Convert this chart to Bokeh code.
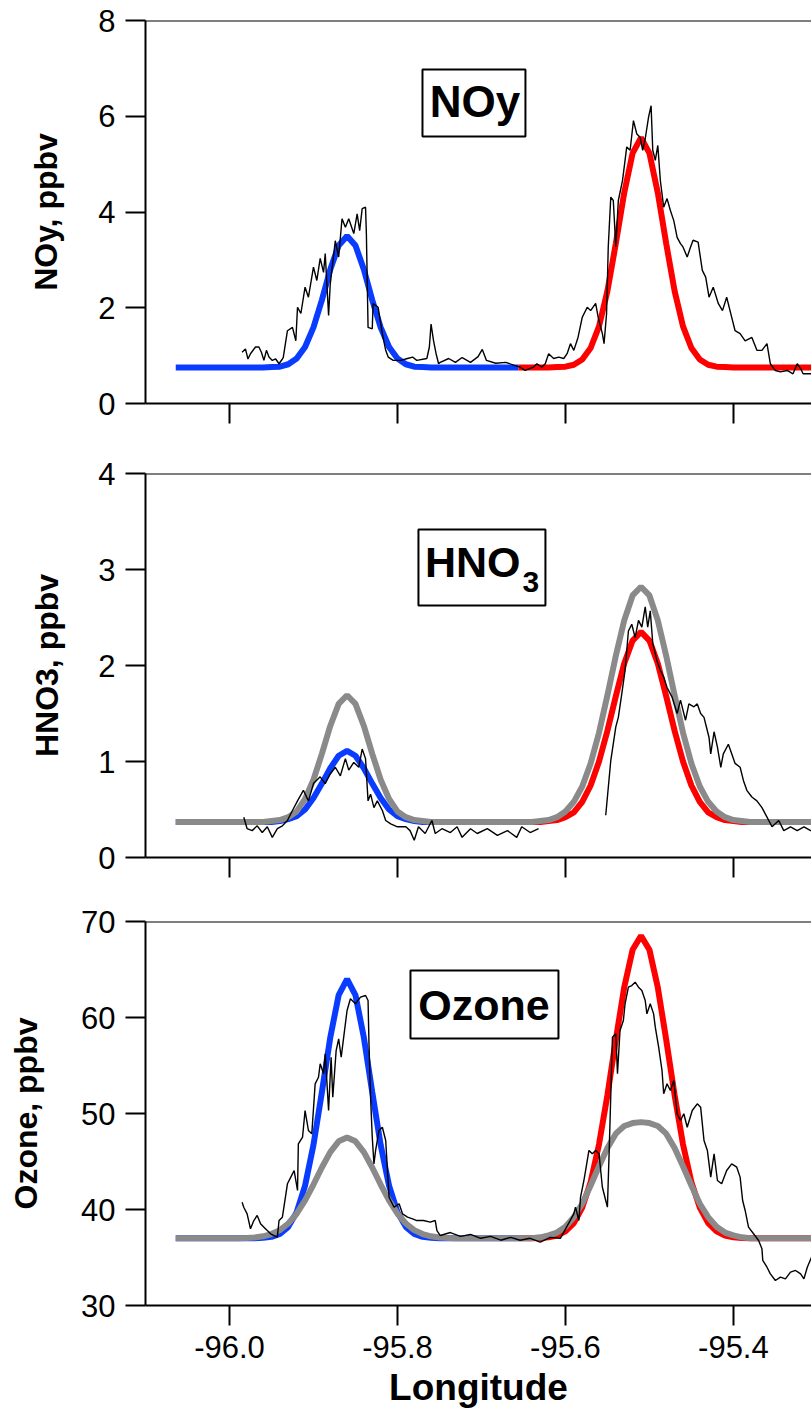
from bokeh.plotting import figure
from bokeh.models import Range1d, FixedTicker, Span, BoxAnnotation, Label, CustomLabelingPolicy
from bokeh.layouts import column
from bokeh.embed import file_html
from bokeh.resources import INLINE

FONT = "Liberation Sans"
NAN = float("nan")

# ---------------- data ----------------
x_ticks = [-96.0, -95.8, -95.6, -95.4]
x_tick_labels = ["-96.0", "-95.8", "-95.6", "-95.4"]

# longitude grids of the fitted curves (left plume, right plume)
fit_lon_left = [-96.064, -95.99, -95.98, -95.97, -95.96, -95.95, -95.94, -95.93, -95.92, -95.91,
                -95.90, -95.89, -95.88, -95.87, -95.86, -95.85, -95.84, -95.83, -95.82, -95.81,
                -95.80, -95.79, -95.78, -95.77, -95.76, -95.75, -95.74, -95.73, -95.656]
fit_lon_right = [-95.656, -95.64, -95.63, -95.62, -95.61, -95.60, -95.59, -95.58, -95.57, -95.56,
                 -95.55, -95.54, -95.53, -95.52, -95.51, -95.50, -95.49, -95.48, -95.47, -95.46,
                 -95.45, -95.44, -95.43, -95.42, -95.41, -95.40, -95.39, -95.38, -95.20]

# NOy panel
noy_blue = [0.75, 0.75, 0.75, 0.75, 0.75, 0.76, 0.77, 0.82, 0.94, 1.18, 1.59, 2.16, 2.80, 3.30,
            3.50, 3.30, 2.80, 2.16, 1.59, 1.18, 0.94, 0.82, 0.77, 0.76, 0.75, 0.75, 0.75, 0.75, 0.75]
noy_red = [0.75, 0.75, 0.75, 0.75, 0.76, 0.77, 0.81, 0.92, 1.16, 1.61, 2.35, 3.34, 4.40, 5.23,
           5.55, 5.23, 4.40, 3.34, 2.35, 1.61, 1.16, 0.92, 0.81, 0.77, 0.76, 0.75, 0.75, 0.75, 0.75]
noy_obs_lon = [-95.985, -95.981, -95.978, -95.975, -95.969, -95.965, -95.962, -95.959, -95.956, -95.953,
               -95.949, -95.945, -95.941, -95.937, -95.936, -95.931, -95.925, -95.921, -95.919, -95.915,
               -95.910, -95.906, -95.900, -95.896, -95.892, -95.888, -95.886, -95.882, -95.880, -95.874,
               -95.870, -95.866, -95.862, -95.858, -95.852, -95.848, -95.845, -95.842, -95.838, -95.837,
               -95.835, -95.830, -95.829, -95.823, -95.818, -95.814, -95.811, -95.805, -95.796, -95.788,
               -95.782, -95.777, -95.765, -95.762, -95.760, -95.757, -95.754, -95.751, -95.749, -95.739,
               -95.731, -95.723, -95.713, -95.704, -95.699, -95.694, -95.683, -95.671, -95.660, -95.654,
               -95.648, -95.638, -95.634, -95.628, -95.624, -95.620, -95.614, -95.608, -95.602, -95.598,
               -95.594, -95.590, -95.585, -95.580, -95.574, -95.570, -95.564, -95.561, -95.556, -95.554,
               -95.551, -95.549, -95.546, -95.543, -95.540, -95.537, -95.532, -95.529, -95.527, -95.523,
               -95.519, -95.515, -95.511, -95.508, -95.505, -95.501, -95.498, -95.496, -95.493, -95.490,
               -95.487, -95.483, -95.479, -95.475, -95.471, -95.467, -95.463, -95.460, -95.455, -95.451,
               -95.448, -95.442, -95.437, -95.433, -95.429, -95.424, -95.418, -95.413, -95.408, -95.402,
               -95.398, -95.392, -95.386, -95.378, -95.372, -95.366, -95.360, -95.356, -95.350, -95.344,
               -95.336, -95.329, -95.324, -95.320, -95.317, -95.308, -95.300]
noy_obs = [1.07, 1.14, 0.93, 1.04, 1.18, 1.18, 1.07, 0.90, 1.11, 0.97,
           0.90, 0.93, 0.83, 0.93, 0.96, 1.52, 1.59, 1.31, 2.01, 1.88,
           2.43, 2.22, 2.85, 2.57, 3.03, 2.74, 3.13, 1.84, 2.50, 3.40,
           3.06, 3.86, 3.68, 3.86, 3.55, 3.96, 3.61, 4.07, 4.10, 3.55,
           1.59, 1.56, 2.09, 2.01, 1.46, 1.11, 0.97, 0.90, 0.90, 0.94,
           0.97, 0.90, 0.94, 1.18, 1.66, 1.31, 1.04, 0.83, 0.86, 0.94,
           0.86, 0.96, 0.86, 0.98, 1.13, 0.90, 0.84, 0.86, 0.79, 0.76,
           0.69, 0.76, 0.83, 0.76, 0.83, 1.04, 0.94, 0.97, 0.94, 1.04,
           1.25, 1.11, 1.38, 1.80, 2.01, 1.94, 2.09, 1.80, 1.46, 1.25,
           1.88, 3.27, 4.31, 4.24, 3.27, 4.24, 4.66, 5.08, 5.36, 5.29,
           5.91, 5.63, 5.56, 5.29, 5.53, 5.98, 6.22, 5.29, 5.08, 5.39,
           4.66, 4.10, 4.28, 4.03, 3.82, 3.47, 3.34, 3.27, 3.06, 3.27,
           3.41, 3.37, 2.78, 2.64, 2.22, 2.43, 2.09, 1.94, 2.22, 1.80,
           1.52, 1.46, 1.31, 1.38, 1.11, 1.11, 1.25, 0.83, 0.69, 0.66,
           0.69, 0.62, 0.83, 0.73, 0.62, 0.62, 0.65]

# HNO3 panel
hno3_blue = [0.37, 0.37, 0.37, 0.37, 0.37, 0.37, 0.38, 0.40, 0.43, 0.50, 0.62, 0.77, 0.93, 1.06,
             1.11, 1.06, 0.93, 0.77, 0.62, 0.50, 0.43, 0.40, 0.38, 0.37, 0.37, 0.37, 0.37, 0.37, 0.37]
hno3_red = [0.37, 0.37, 0.37, 0.38, 0.39, 0.42, 0.47, 0.58, 0.75, 1.00, 1.32, 1.68, 2.02, 2.26,
            2.35, 2.26, 2.02, 1.68, 1.32, 1.00, 0.75, 0.58, 0.47, 0.42, 0.39, 0.38, 0.37, 0.37, 0.37]
hno3_gray_left = [0.37, 0.37, 0.37, 0.37, 0.37, 0.38, 0.39, 0.42, 0.48, 0.61, 0.81, 1.08, 1.37, 1.60,
                  1.69, 1.60, 1.37, 1.08, 0.81, 0.61, 0.48, 0.42, 0.39, 0.38, 0.37, 0.37, 0.37, 0.37, 0.37]
hno3_gray_right = [0.37, 0.37, 0.38, 0.39, 0.42, 0.48, 0.58, 0.74, 0.98, 1.30, 1.69, 2.10, 2.47, 2.73,
                   2.82, 2.73, 2.47, 2.10, 1.69, 1.30, 0.98, 0.74, 0.58, 0.48, 0.42, 0.39, 0.38, 0.37, 0.37]
hno3_obs_lon = [-95.983, -95.979, -95.973, -95.967, -95.961, -95.955, -95.949, -95.943, -95.937, -95.931,
                -95.925, -95.919, -95.912, -95.906, -95.900, -95.892, -95.886, -95.880, -95.874, -95.868,
                -95.862, -95.858, -95.852, -95.846, -95.842, -95.838, -95.835, -95.832, -95.828, -95.824,
                -95.818, -95.814, -95.808, -95.800, -95.790, -95.785, -95.780, -95.775, -95.767, -95.759,
                -95.755, -95.747, -95.737, -95.729, -95.723, -95.713, -95.705, -95.693, -95.681, -95.669,
                -95.658, -95.652, -95.642, -95.632, -95.60,
                -95.552, -95.546, -95.540, -95.537, -95.533, -95.529, -95.525, -95.521, -95.517, -95.513,
                -95.509, -95.505, -95.502, -95.499, -95.496, -95.491, -95.487, -95.483, -95.479, -95.473,
                -95.467, -95.463, -95.457, -95.453, -95.447, -95.443, -95.439, -95.435, -95.429, -95.427,
                -95.423, -95.419, -95.415, -95.412, -95.406, -95.402, -95.398, -95.392, -95.388, -95.384,
                -95.378, -95.372, -95.366, -95.360, -95.354, -95.346, -95.340, -95.332, -95.324, -95.316,
                -95.308, -95.300]
hno3_obs = [0.42, 0.30, 0.28, 0.33, 0.26, 0.32, 0.21, 0.30, 0.33, 0.385,
            0.49, 0.59, 0.70, 0.59, 0.77, 0.84, 0.77, 0.87, 0.94, 0.85,
            1.03, 0.91, 0.99, 0.94, 1.13, 1.03, 0.59, 0.66, 0.52, 0.59,
            0.49, 0.385, 0.35, 0.32, 0.32, 0.28, 0.18, 0.32, 0.25, 0.385,
            0.25, 0.30, 0.26, 0.32, 0.21, 0.30, 0.25, 0.30, 0.23, 0.28,
            0.21, 0.32, 0.26, 0.30, NAN,
            0.44, 1.01, 1.36, 1.46, 1.70, 1.95, 2.36, 2.43, 2.29, 2.47,
            2.40, 2.61, 2.40, 2.57, 2.23, 2.05, 1.95, 1.88, 1.77, 1.67,
            1.50, 1.64, 1.43, 1.60, 1.57, 1.60, 1.50, 1.46, 1.25, 1.08,
            1.31, 1.15, 0.94, 1.08, 1.18, 1.08, 0.98, 0.94, 0.80, 0.70,
            0.63, 0.59, 0.52, 0.42, 0.32, 0.385, 0.28, 0.32, 0.28, 0.32,
            0.28, 0.30]

# Ozone panel
o3_blue = [37.0, 37.0, 37.0, 37.01, 37.05, 37.15, 37.46, 38.19, 39.72, 42.48, 46.73, 52.21, 57.92, 62.33,
           64.0, 62.33, 57.92, 52.21, 46.73, 42.48, 39.72, 38.19, 37.46, 37.15, 37.05, 37.01, 37.0, 37.0, 37.0]
o3_red = [37.0, 37.01, 37.04, 37.11, 37.29, 37.72, 38.58, 40.19, 42.85, 46.79, 51.91, 57.68, 63.13, 67.06,
          68.5, 67.06, 63.13, 57.68, 51.91, 46.79, 42.85, 40.19, 38.58, 37.72, 37.29, 37.11, 37.04, 37.01, 37.0]
o3_gray_left = [37.0, 37.01, 37.04, 37.09, 37.21, 37.44, 37.85, 38.54, 39.56, 40.94, 42.60, 44.38, 45.98, 47.10,
                47.5, 47.10, 45.98, 44.38, 42.60, 40.94, 39.56, 38.54, 37.85, 37.44, 37.21, 37.09, 37.04, 37.01, 37.0]
o3_gray_right = [37.0, 37.0, 37.1, 37.3, 37.6, 38.2, 39.2, 40.6, 42.5, 44.5, 46.4, 47.9, 48.7, 49.0,
                 49.1, 49.0, 48.7, 47.9, 46.4, 44.5, 42.5, 40.6, 39.2, 38.2, 37.6, 37.3, 37.1, 37.0, 37.0]
o3_obs_lon = [-95.985, -95.983, -95.979, -95.975, -95.971, -95.967, -95.963, -95.959, -95.955, -95.951,
              -95.947, -95.943, -95.941, -95.937, -95.931, -95.927, -95.923, -95.919, -95.918, -95.913,
              -95.910, -95.906, -95.902, -95.898, -95.894, -95.892, -95.888, -95.886, -95.882, -95.879,
              -95.877, -95.873, -95.870, -95.867, -95.863, -95.860, -95.856, -95.850, -95.844, -95.838,
              -95.835, -95.834, -95.832, -95.830, -95.828, -95.826, -95.822, -95.818, -95.814, -95.810,
              -95.804, -95.798, -95.794, -95.788, -95.782, -95.777, -95.769, -95.761, -95.755, -95.753,
              -95.749, -95.737, -95.725, -95.713, -95.701, -95.689, -95.677, -95.665, -95.654, -95.642,
              -95.630, -95.618, -95.606, -95.590, -95.588, -95.584, -95.582, -95.578, -95.576, -95.572,
              -95.568, -95.564, -95.560, -95.556, -95.552, -95.550, -95.548, -95.544, -95.540, -95.538,
              -95.535, -95.531, -95.529, -95.525, -95.521, -95.517, -95.513, -95.509, -95.505, -95.503,
              -95.499, -95.495, -95.493, -95.489, -95.485, -95.483, -95.479, -95.475, -95.471, -95.467,
              -95.463, -95.459, -95.455, -95.449, -95.443, -95.439, -95.435, -95.431, -95.427, -95.423,
              -95.419, -95.414, -95.408, -95.402, -95.396, -95.392, -95.389, -95.386, -95.382, -95.376,
              -95.370, -95.366, -95.365, -95.360, -95.356, -95.350, -95.344, -95.338, -95.332, -95.326,
              -95.320, -95.316, -95.312, -95.307, -95.300]
o3_obs = [40.76, 40.24, 39.55, 37.99, 38.85, 39.38, 38.51, 38.16, 37.81, 37.47,
          37.29, 37.12, 38.85, 39.20, 42.68, 43.37, 44.06, 41.98, 46.84, 47.53,
          50.31, 48.23, 47.88, 53.09, 53.78, 55.18, 54.14, 56.22, 50.31, 55.86,
          51.70, 56.56, 57.78, 55.86, 58.65, 60.73, 61.95, 61.43, 62.12, 62.29,
          61.77, 57.60, 51.70, 47.53, 44.76, 46.15, 48.23, 48.57, 47.19, 41.28,
          40.24, 40.59, 39.55, 39.20, 39.03, 38.85, 38.85, 38.68, 38.85, 37.81,
          37.29, 37.6, 37.2, 37.4, 37.0, 37.2, 36.8, 37.1, 36.8, 37.0,
          36.6, 37.1, 37.0, 39.55, 40.24, 38.85, 41.28, 43.02, 44.06, 46.15,
          45.80, 46.15, 45.80, 42.32, 40.94, 40.24, 45.80, 57.95, 58.30, 54.14,
          58.65, 59.69, 61.43, 63.16, 63.33, 63.68, 63.16, 62.81, 61.77, 60.38,
          61.43, 60.38, 58.99, 56.91, 54.48, 52.05, 53.09, 52.40, 53.44, 49.97,
          49.27, 49.97, 48.57, 50.31, 51.01, 50.66, 47.19, 46.15, 43.37, 45.80,
          43.02, 42.68, 44.06, 44.76, 44.41, 43.37, 40.94, 39.90, 38.16, 37.47,
          36.77, 35.90, 34.69, 33.99, 33.30, 32.60, 32.95, 32.78, 33.47, 33.65,
          33.30, 32.78, 33.99, 35.03, 36.0]

BLUE = "#0a3cff"
RED = "#ff0000"
GRAY = "#8a8a8a"

X_RANGE = (-96.1, -95.307)


def make_panel(height, top, bottom, yr, yticks, ylabel, show_x, label_standoff):
    p = figure(width=811, height=height, output_backend="svg", toolbar_location=None,
               x_range=Range1d(*X_RANGE), y_range=Range1d(*yr))
    p.min_border_left = 145
    p.min_border_right = 0
    p.min_border_top = top
    p.min_border_bottom = bottom
    p.outline_line_color = None
    p.background_fill_color = "white"
    p.border_fill_color = "white"
    p.xgrid.visible = False
    p.ygrid.visible = False
    for ax in (p.xaxis[0], p.yaxis[0]):
        ax.axis_line_width = 2
        ax.axis_line_color = "black"
        ax.major_tick_line_width = 2
        ax.major_tick_line_color = "black"
        ax.major_tick_out = 20
        ax.major_tick_in = 0
        ax.minor_tick_line_color = None
        ax.major_label_text_font = FONT
        ax.major_label_text_font_size = "31px"
        ax.major_label_text_color = "black"
        ax.axis_label_text_font = FONT
        ax.axis_label_text_font_style = "bold"
        ax.axis_label_text_color = "black"
    p.yaxis.ticker = FixedTicker(ticks=yticks)
    p.yaxis.major_label_standoff = 10
    p.yaxis.axis_label = ylabel
    p.yaxis.axis_label_text_font_size = "32px"
    p.yaxis.axis_label_standoff = label_standoff
    p.xaxis.ticker = FixedTicker(ticks=x_ticks)
    if show_x:
        p.xaxis.major_label_overrides = dict(zip(x_ticks, x_tick_labels))
        p.xaxis.major_label_standoff = 10
        p.xaxis.axis_label = "Longitude"
        p.xaxis.axis_label_text_font_size = "37px"
        p.xaxis.axis_label_standoff = 6
    else:
        # ticks only: the reference shows no longitude labels under the upper panels
        p.xaxis.major_label_text_font_size = "6px"
        p.xaxis.major_label_standoff = 0
        p.xaxis.major_label_policy = CustomLabelingPolicy(code="return []")
    p.add_layout(Span(location=yr[1], dimension="width", line_color="black", line_width=2))
    return p


def add_title(p, box, text_items):
    left, right, bottom, top = box
    p.add_layout(BoxAnnotation(left=left, right=right, bottom=bottom, top=top,
                               fill_color="white", fill_alpha=1.0,
                               line_color="black", line_alpha=1.0, line_width=2))
    for (x, y, t, size, align) in text_items:
        p.add_layout(Label(x=x, y=y, text=t, text_font=FONT, text_font_style="bold",
                           text_font_size=size, text_align=align, text_baseline="middle",
                           text_color="black"))


# ---------- panel 1: NOy ----------
p1 = make_panel(438, 20, 35, (0, 8), [0, 2, 4, 6, 8], "NOy, ppbv", False, 31)
p1.line(fit_lon_left, noy_blue, line_color=BLUE, line_width=6)
p1.line(fit_lon_right, noy_red, line_color=RED, line_width=6)
p1.line(noy_obs_lon, noy_obs, line_color="black", line_width=1.4)
add_title(p1, (-95.7702, -95.6476, 5.577, 6.976),
          [(-95.7077, 6.298, "NOy", "44px", "center")])

# ---------- panel 2: HNO3 ----------
p2 = make_panel(448, 35, 29, (0, 4), [0, 1, 2, 3, 4], "HNO3, ppbv", False, 30)
p2.line(fit_lon_left, hno3_blue, line_color=BLUE, line_width=6)
p2.line(fit_lon_right, hno3_red, line_color=RED, line_width=6)
p2.line(fit_lon_left + fit_lon_right[1:], hno3_gray_left + hno3_gray_right[1:],
        line_color=GRAY, line_width=6)
p2.line(hno3_obs_lon, hno3_obs, line_color="black", line_width=1.4)
add_title(p2, (-95.775, -95.6238, 2.625, 3.417),
          [(-95.7672, 3.078, "HNO", "43px", "left"),
           (-95.6512, 2.875, "3", "30px", "left")])

# ---------- panel 3: Ozone ----------
p3 = make_panel(536, 35, 117, (30, 70), [30, 40, 50, 60, 70], "Ozone, ppbv", True, 34)
p3.line(fit_lon_left, o3_blue, line_color=BLUE, line_width=6)
p3.line(fit_lon_right, o3_red, line_color=RED, line_width=6)
p3.line(fit_lon_left + fit_lon_right[1:], o3_gray_left + o3_gray_right[1:],
        line_color=GRAY, line_width=6)
p3.line(o3_obs_lon, o3_obs, line_color="black", line_width=1.4)
add_title(p3, (-95.7845, -95.6083, 57.81, 64.9),
          [(-95.697, 61.35, "Ozone", "43px", "center")])

layout = column(p1, p2, p3)
open("out.html", "w").write(file_html(layout, INLINE))
